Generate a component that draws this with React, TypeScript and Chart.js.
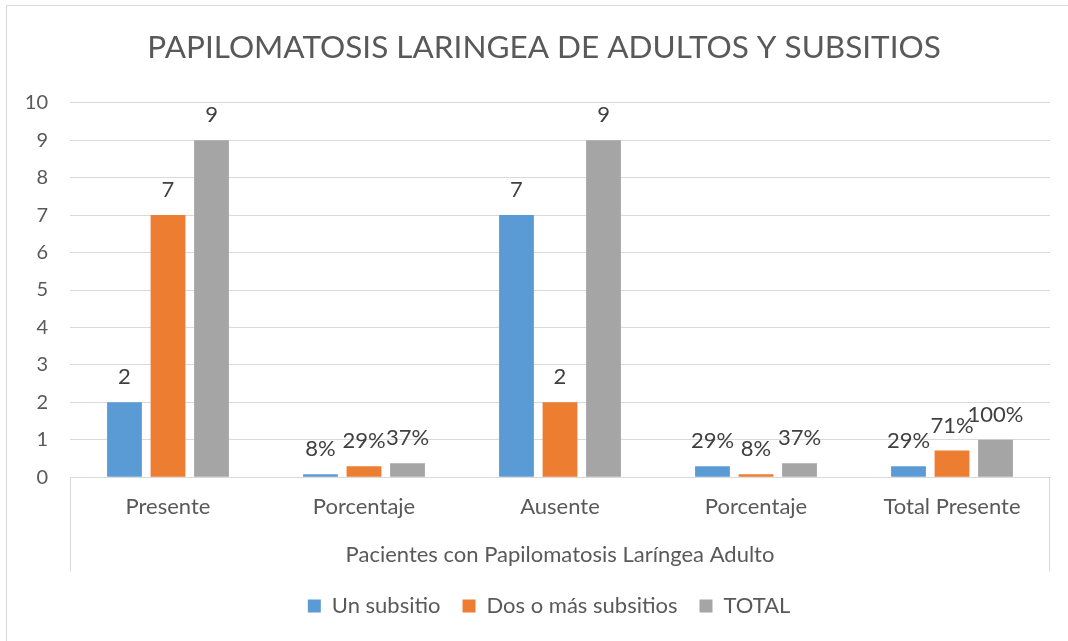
import { useEffect, useRef } from "react";
import { Chart, registerables } from "chart.js";

Chart.register(...registerables);

const titleText = "PAPILOMATOSIS LARINGEA DE ADULTOS Y SUBSITIOS";
const groupLabel = "Pacientes con Papilomatosis Laríngea Adulto";
const categories = ["Presente", "Porcentaje", "Ausente", "Porcentaje", "Total Presente"];
const percentCategory = [false, true, false, true, true];
const seriesNames = ["Un subsitio", "Dos o más subsitios", "TOTAL"];
const unSubsitio = [2, 0.08, 7, 0.29, 0.29];
const dosOMasSubsitios = [7, 0.29, 2, 0.08, 0.71];
const totalValues = [9, 0.37, 9, 0.37, 1];
const seriesColors = ["#5B9BD5", "#ED7D31", "#A5A5A5"];
const yMin = 0;
const yMax = 10;
const yStep = 1;

const FONT = "Lato";
const TEXT = "#595959";
const GRID = "#D9D9D9";
const NBSP = "\u00A0";

function formatLabel(v: number, i: number): string {
  return percentCategory[i] ? Math.round(v * 100) + "%" : String(v);
}

const framePlugin = {
  id: "frame",
  beforeDraw(chart: any) {
    const { ctx, width, height } = chart;
    ctx.save();
    ctx.fillStyle = "#FFFFFF";
    ctx.fillRect(0, 0, width, height);
    ctx.strokeStyle = GRID;
    ctx.lineWidth = 1;
    ctx.beginPath();
    ctx.moveTo(6.5, height);
    ctx.lineTo(6.5, 5.5);
    ctx.lineTo(width, 5.5);
    ctx.stroke();
    ctx.restore();
  },
  afterDraw(chart: any) {
    const { ctx, chartArea } = chart;
    const xs = chart.scales.x;
    ctx.save();
    ctx.strokeStyle = GRID;
    ctx.lineWidth = 1;
    ctx.beginPath();
    const l = Math.round(chartArea.left) + 0.5;
    const r = Math.round(chartArea.right) - 0.5;
    ctx.moveTo(l, chartArea.bottom);
    ctx.lineTo(l, xs.bottom - 2);
    ctx.moveTo(r, chartArea.bottom);
    ctx.lineTo(r, xs.bottom - 2);
    ctx.stroke();
    ctx.restore();
  },
};

const dataLabelPlugin = {
  id: "dataLabels",
  afterDatasetsDraw(chart: any) {
    const { ctx } = chart;
    ctx.save();
    ctx.fillStyle = "#404040";
    ctx.font = `22px ${FONT}`;
    ctx.textAlign = "center";
    ctx.textBaseline = "middle";
    chart.data.datasets.forEach((ds: any, di: number) => {
      const meta = chart.getDatasetMeta(di);
      meta.data.forEach((el: any, i: number) => {
        ctx.fillText(formatLabel(ds.data[i], i), el.x, el.y - 25);
      });
    });
    ctx.restore();
  },
};

export default function App() {
  const ref = useRef<HTMLCanvasElement | null>(null);
  useEffect(() => {
    let chart: Chart | null = null;
    let cancelled = false;
    const make = () => {
      if (cancelled || !ref.current) return;
      const seriesData = [unSubsitio, dosOMasSubsitios, totalValues];
      chart = new Chart(ref.current, {
        type: "bar",
        data: {
          labels: categories,
          datasets: seriesNames.map((name, k) => ({
            label: name,
            data: seriesData[k],
            backgroundColor: seriesColors[k],
            borderWidth: 0,
            categoryPercentage: 0.666,
            barPercentage: 0.8,
          })),
        },
        options: {
          animation: false,
          responsive: false,
          maintainAspectRatio: false,
          layout: { padding: { left: 14, right: 18, top: 0, bottom: 14 } },
          plugins: {
            title: {
              display: true,
              text: NBSP.repeat(3) + titleText,
              color: TEXT,
              font: { family: FONT, size: 31.5, weight: "normal" },
              padding: { top: 29, bottom: 36 },
            },
            legend: {
              position: "bottom",
              fullSize: false,
              labels: {
                boxWidth: 13,
                boxHeight: 13,
                padding: 22,
                color: TEXT,
                font: { family: FONT, size: 22 },
                generateLabels(chart: any) {
                  const items = Chart.defaults.plugins.legend.labels.generateLabels(chart);
                  const last = items[items.length - 1];
                  if (last) last.text = last.text + NBSP.repeat(4);
                  return items;
                },
              },
            },
            tooltip: { enabled: false },
          },
          scales: {
            x: {
              grid: { display: false, drawTicks: false },
              border: { display: true, color: GRID },
              ticks: { color: TEXT, font: { family: FONT, size: 22 }, padding: 17 },
              title: {
                display: true,
                text: groupLabel,
                color: TEXT,
                font: { family: FONT, size: 22 },
                padding: { top: 4, bottom: 5 },
              },
            },
            y: {
              min: yMin,
              max: yMax,
              afterFit(scale: any) {
                scale.width = 56;
              },
              ticks: { stepSize: yStep, color: TEXT, font: { family: FONT, size: 20 }, padding: 22 },
              grid: { color: GRID, drawTicks: false },
              border: { display: false },
            },
          },
        },
        plugins: [framePlugin, dataLabelPlugin],
      } as any);
    };
    if ((document as any).fonts && (document as any).fonts.load) {
      Promise.all([
        (document as any).fonts.load(`20px ${FONT}`),
        (document as any).fonts.load(`22px ${FONT}`),
      ]).then(make, make);
    } else {
      make();
    }
    return () => {
      cancelled = true;
      if (chart) chart.destroy();
    };
  }, []);
  return (
    <div style={{ position: "absolute", left: 0, top: 0, width: 1068, height: 641, background: "#fff" }}>
      <canvas ref={ref} width={1068} height={641} style={{ display: "block" }} />
    </div>
  );
}
